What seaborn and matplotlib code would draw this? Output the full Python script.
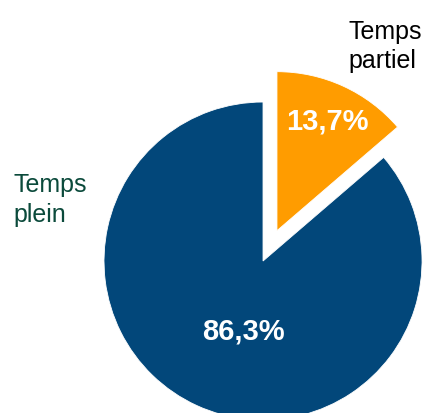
import matplotlib
matplotlib.use("Agg")
import matplotlib.pyplot as plt
import seaborn as sns

categories = ["Temps\nplein", "Temps\npartiel"]
shares = [86.3, 13.7]
colors = ["#02477A", "#FF9C00"]
label_colors = ["#0B4A3B", "#000000"]

sns.set_theme(style="white")
plt.rcParams["font.family"] = ["Liberation Sans", "DejaVu Sans"]

fig = plt.figure(figsize=(4.30, 4.14), dpi=100)
ax = fig.add_axes([0, 0, 1, 1])

wedges, texts, autotexts = ax.pie(
    shares,
    colors=colors,
    startangle=90,
    explode=[0, 0.21],
    autopct=lambda p: f"{p:.1f}%".replace(".", ","),
    pctdistance=0.76,
    wedgeprops=dict(edgecolor="white", linewidth=0.6),
    textprops=dict(color="white", fontsize=21, fontweight="bold"),
)
# move the big slice's label a bit lower, like the original
autotexts[0].set_position((-0.123, -0.44))

# category labels outside the pie
ax.text(-1.572, 0.56, categories[0], color=label_colors[0], fontsize=18,
        ha="left", va="top", linespacing=1.3)
ax.text(0.535, 1.525, categories[1], color=label_colors[1], fontsize=18,
        ha="left", va="top", linespacing=1.3)

ax.set_xlim(-1.654, 1.050)
ax.set_ylim(-0.956, 1.648)
ax.set_aspect("auto")
ax.axis("off")

fig.savefig("out.png", dpi=100)
